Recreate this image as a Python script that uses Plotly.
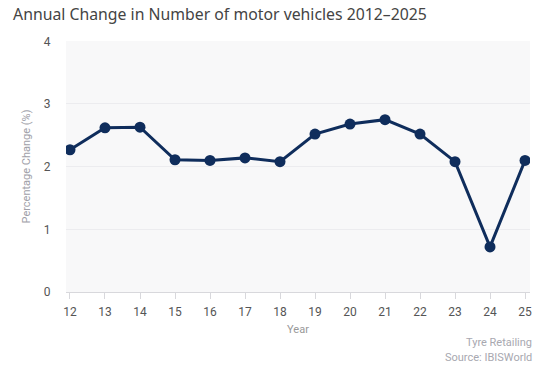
import plotly.graph_objects as go

years = [12, 13, 14, 15, 16, 17, 18, 19, 20, 21, 22, 23, 24, 25]
change = [2.27, 2.62, 2.63, 2.11, 2.10, 2.14, 2.08, 2.52, 2.68, 2.75, 2.52, 2.08, 0.72, 2.10]
y_ticks = [0, 1, 2, 3, 4]

title_text = "Annual Change in Number of motor vehicles 2012\u20132025"
footer_lines = ["Tyre Retailing", "Source: IBISWorld"]

fig = go.Figure()
fig.add_trace(go.Scatter(
    x=years, y=change, mode="lines+markers",
    line=dict(color="#0f2d5c", width=3),
    marker=dict(color="#0f2d5c", size=11),
    showlegend=False,
))

fig.update_layout(
    width=544, height=368,
    margin=dict(l=66, r=12, t=41, b=76),
    paper_bgcolor="white",
    plot_bgcolor="#f8f8f9",
    font=dict(family="Roboto", color="#555"),
    title=dict(text=title_text, x=0.024, xanchor="left", y=0.962, yanchor="middle",
               font=dict(family="Noto Sans", size=15.8, color="#444")),
    xaxis=dict(
        range=[11.886, 25.142], tickmode="array", tickvals=years,
        ticktext=[str(v) for v in years],
        showgrid=False, zeroline=False,
        showline=True, linecolor="#d8d8dc", linewidth=1,
        ticks="outside", ticklen=6, tickcolor="#d8d8dc",
        ticklabelstandoff=3,
        tickfont=dict(size=12, color="#555"),
        title=dict(text="Year", font=dict(size=11, color="#999"), standoff=6),
        fixedrange=True,
    ),
    yaxis=dict(
        range=[0, 4.005], tickmode="array", tickvals=y_ticks,
        showgrid=True, gridcolor="#ececef", gridwidth=1,
        zeroline=False, showline=False,
        ticks="outside", ticklen=12, tickcolor="rgba(0,0,0,0)",
        tickfont=dict(size=12, color="#555"),
        title=dict(text="Percentage Change (%)", font=dict(size=11, color="#a0a0a8"), standoff=10),
        fixedrange=True,
    ),
)

fig.add_annotation(text=footer_lines[0], xref="paper", yref="paper", x=1.0, xshift=4,
                   y=-0.203, xanchor="right", yanchor="middle", showarrow=False,
                   font=dict(size=11, color="#a8a8b0"))
fig.add_annotation(text=footer_lines[1], xref="paper", yref="paper", x=1.0, xshift=4,
                   y=-0.259, xanchor="right", yanchor="middle", showarrow=False,
                   font=dict(size=11, color="#a8a8b0"))

fig.write_html("out.html")
